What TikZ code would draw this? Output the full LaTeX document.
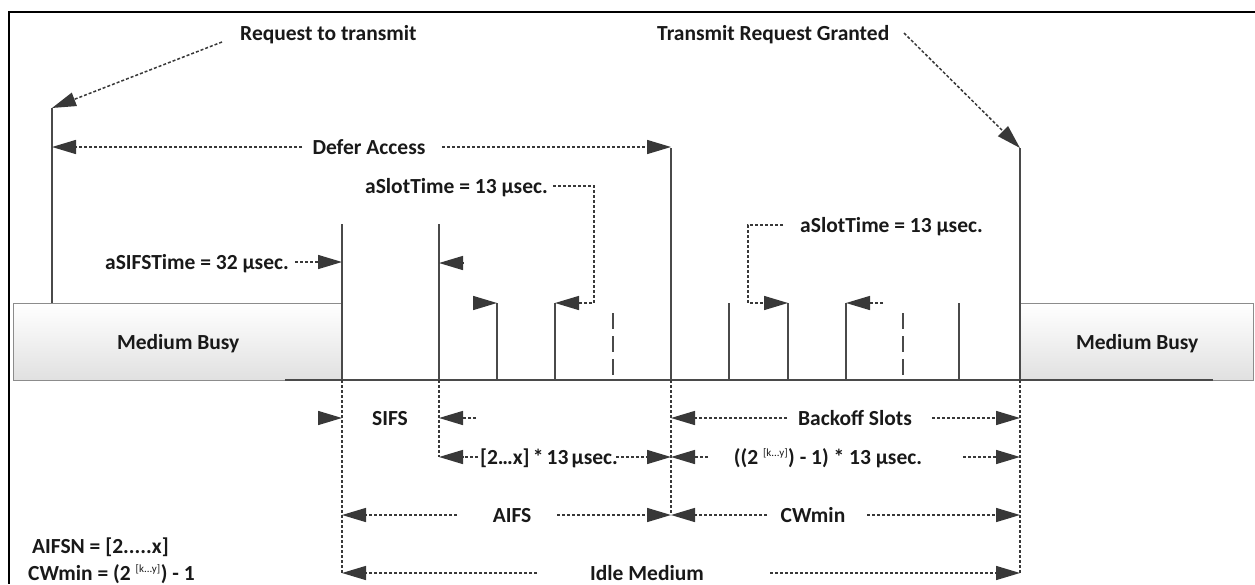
\documentclass[tikz,border=0pt]{standalone}
\usepackage{fontspec}
\setmainfont{Carlito}
\usetikzlibrary{arrows.meta}
\definecolor{ln}{HTML}{4A4A4A}
\definecolor{ah}{HTML}{383838}
\definecolor{bx}{HTML}{8C8C8C}
\begin{document}
\begin{tikzpicture}[x=1pt,y=-1pt,
  lbl/.style={font=\fontsize{21.5}{25}\selectfont\bfseries, text=black!90, inner sep=0pt, text height=14pt, text depth=0pt},
  slotline/.style={draw=ln, line width=2pt},
  mainline/.style={draw=ln, line width=2.8pt},
  dashline/.style={draw=ln, line width=2pt, dash pattern=on 16pt off 7pt},
  dots/.style={draw=ah, line width=1.5pt, dash pattern=on 3pt off 2pt},
  arr/.style={dots, -{Triangle[length=24pt,width=14pt]}},
  busy/.style={draw=bx, line width=1.4pt, top color=white, bottom color=black!12}
]
\useasboundingbox (0,0) rectangle (1255,584);
% frame
\draw[line width=2.5pt, black] (1255,12) -- (9,12) -- (9,584);

% busy boxes
\node[busy, minimum width=329pt, minimum height=77pt, anchor=north west, inner sep=0pt] (busyL) at (13,303) {};
\node[busy, minimum width=233pt, minimum height=77pt, anchor=north west, inner sep=0pt] (busyR) at (1020,303) {};
\node[lbl] (mbL) at (busyL.center) {Medium Busy};
\node[lbl] (mbR) at (busyR.center) {Medium Busy};

% baseline
\coordinate (b0) at (285,380);
\coordinate (b1) at (1213,380);
\draw[draw=ln, line width=2.2pt] (b0) -- (b1);

% vertical lines (tops and bottoms)
\coordinate (v0t) at (52,108);   \coordinate (v0b) at (52,303);
\coordinate (v1t) at (342,224);  \coordinate (v1b) at (342,380);
\coordinate (v2t) at (439,224);  \coordinate (v2b) at (439,380);
\coordinate (v3t) at (497,303);  \coordinate (v3b) at (497,380);
\coordinate (v4t) at (555,303);  \coordinate (v4b) at (555,380);
\coordinate (d1t) at (613,313);  \coordinate (d1b) at (613,380);
\coordinate (v5t) at (671,148);  \coordinate (v5b) at (671,380);
\coordinate (v6t) at (729,303);  \coordinate (v6b) at (729,380);
\coordinate (v7t) at (788,303);  \coordinate (v7b) at (788,380);
\coordinate (v8t) at (846,303);  \coordinate (v8b) at (846,380);
\coordinate (d2t) at (903,313);  \coordinate (d2b) at (903,380);
\coordinate (v9t) at (959,303);  \coordinate (v9b) at (959,380);
\coordinate (v10t) at (1020,148); \coordinate (v10b) at (1020,380);

\draw[mainline] (v0t) -- (v0b);
\draw[mainline] (v1t) -- (v1b);
\draw[mainline] (v2t) -- (v2b);
\draw[slotline] (v3t) -- (v3b);
\draw[slotline] (v4t) -- (v4b);
\draw[dashline] (d1t) -- (d1b);
\draw[mainline] (v5t) -- (v5b);
\draw[slotline] (v6t) -- (v6b);
\draw[slotline] (v7t) -- (v7b);
\draw[slotline] (v8t) -- (v8b);
\draw[dashline] (d2t) -- (d2b);
\draw[slotline] (v9t) -- (v9b);
\draw[mainline] (v10t) -- (v10b);

% dotted drops below baseline
\coordinate (e1) at (342,573);
\coordinate (e2) at (439,457);
\coordinate (e5) at (671,515);
\coordinate (e10) at (1020,573);
\draw[dots] (v1b) -- (e1);
\draw[dots] (v2b) -- (e2);
\draw[dots] (v5b) -- (e5);
\draw[dots] (v10b) -- (e10);

% top labels
\node[lbl, anchor=west] (req) at (240,33) {Request to transmit};
\node[lbl, anchor=west] (grant) at (657,33) {Transmit Request Granted};
\coordinate (reqS) at (222,42);
\coordinate (grantS) at (904,33);
\draw[arr] (reqS) -- (v0t);
\draw[arr] (grantS) -- (v10t);

\node[lbl] (defer) at (369,147) {Defer Access};
\coordinate (dfL) at (302,147); \coordinate (dfLt) at (52,147);
\coordinate (dfR) at (442,147); \coordinate (dfRt) at (671,147);
\draw[arr] (dfL) -- (dfLt);
\draw[arr] (dfR) -- (dfRt);

\node[lbl, anchor=east] (slot1) at (548,186) {aSlotTime = 13 µsec.};
\coordinate (s1a) at (553,186); \coordinate (s1b) at (594,186); \coordinate (s1c) at (594,303);
\draw[arr] (s1a) -- (s1b) -- (s1c) -- (v4t);

\node[lbl, anchor=west] (slot2) at (800,225) {aSlotTime = 13 µsec.};
\coordinate (s2a) at (783,225); \coordinate (s2b) at (748,225); \coordinate (s2c) at (748,303);
\draw[arr] (s2a) -- (s2b) -- (s2c) -- (v7t);

\node[lbl, anchor=west] (sifst) at (105,262) {aSIFSTime = 32 µsec.};
\coordinate (sfa) at (295,262); \coordinate (sft) at (342,262);
\draw[arr] (sfa) -- (sft);

% lone arrowheads
\coordinate (h1a) at (463,263); \coordinate (h1t) at (439,263);
\draw[arr] (h1a) -- (h1t);
\coordinate (h2a) at (473,303);
\draw[arr] (h2a) -- (v3t);
\coordinate (h3a) at (883,303);
\draw[arr] (h3a) -- (v8t);

% SIFS row
\node[lbl] (sifs) at (390,418) {SIFS};
\coordinate (r1a) at (318,418); \coordinate (r1t) at (342,418);
\draw[arr] (r1a) -- (r1t);
\coordinate (r1b) at (476,418); \coordinate (r1u) at (439,418);
\draw[arr] (r1b) -- (r1u);

\node[lbl] (backoff) at (855,418) {Backoff Slots};
\coordinate (bkL) at (787,418); \coordinate (bkLt) at (671,418);
\coordinate (bkR) at (932,418); \coordinate (bkRt) at (1020,418);
\draw[arr] (bkL) -- (bkLt);
\draw[arr] (bkR) -- (bkRt);

% multiplication row
\node[lbl] (mult1) at (549,457) {\spaceskip=3.2pt [2.\kern-1.2pt.\kern-1.2pt.x] * 13 µsec.};
\coordinate (m1L) at (478,457); \coordinate (m1Lt) at (439,457);
\coordinate (m1R) at (616,457); \coordinate (m1Rt) at (671,457);
\draw[arr] (m1L) -- (m1Lt);
\draw[arr] (m1R) -- (m1Rt);

\node[lbl] (mult2) at (828,457) {((2 \textsuperscript{\mdseries\fontsize{11}{12}\selectfont[k...y]}) - 1) * 13 µsec.};
\coordinate (m2L) at (708,457); \coordinate (m2Lt) at (671,457);
\coordinate (m2R) at (963,457); \coordinate (m2Rt) at (1020,457);
\draw[arr] (m2L) -- (m2Lt);
\draw[arr] (m2R) -- (m2Rt);

% AIFS / CWmin row
\node[lbl] (aifs) at (512,515) {AIFS};
\coordinate (aL) at (457,515); \coordinate (aLt) at (342,515);
\coordinate (aR) at (557,515); \coordinate (aRt) at (671,515);
\draw[arr] (aL) -- (aLt);
\draw[arr] (aR) -- (aRt);

\node[lbl] (cwmin) at (813,515) {CWmin};
\coordinate (cL) at (767,515); \coordinate (cLt) at (671,515);
\coordinate (cR) at (867,515); \coordinate (cRt) at (1020,515);
\draw[arr] (cL) -- (cLt);
\draw[arr] (cR) -- (cRt);

% Idle medium row
\node[lbl] (idle) at (647,573) {Idle Medium};
\coordinate (iL) at (537,573); \coordinate (iLt) at (342,573);
\coordinate (iR) at (770,573); \coordinate (iRt) at (1020,573);
\draw[arr] (iL) -- (iLt);
\draw[arr] (iR) -- (iRt);

% legend
\node[lbl, anchor=west] (aifsn) at (32,546) {AIFSN = [2.....x]};
\node[lbl, anchor=west] (cwf) at (28,573) {CWmin = (2 \textsuperscript{\mdseries\fontsize{11}{12}\selectfont[k...y]}) - 1};
\end{tikzpicture}
\end{document}
